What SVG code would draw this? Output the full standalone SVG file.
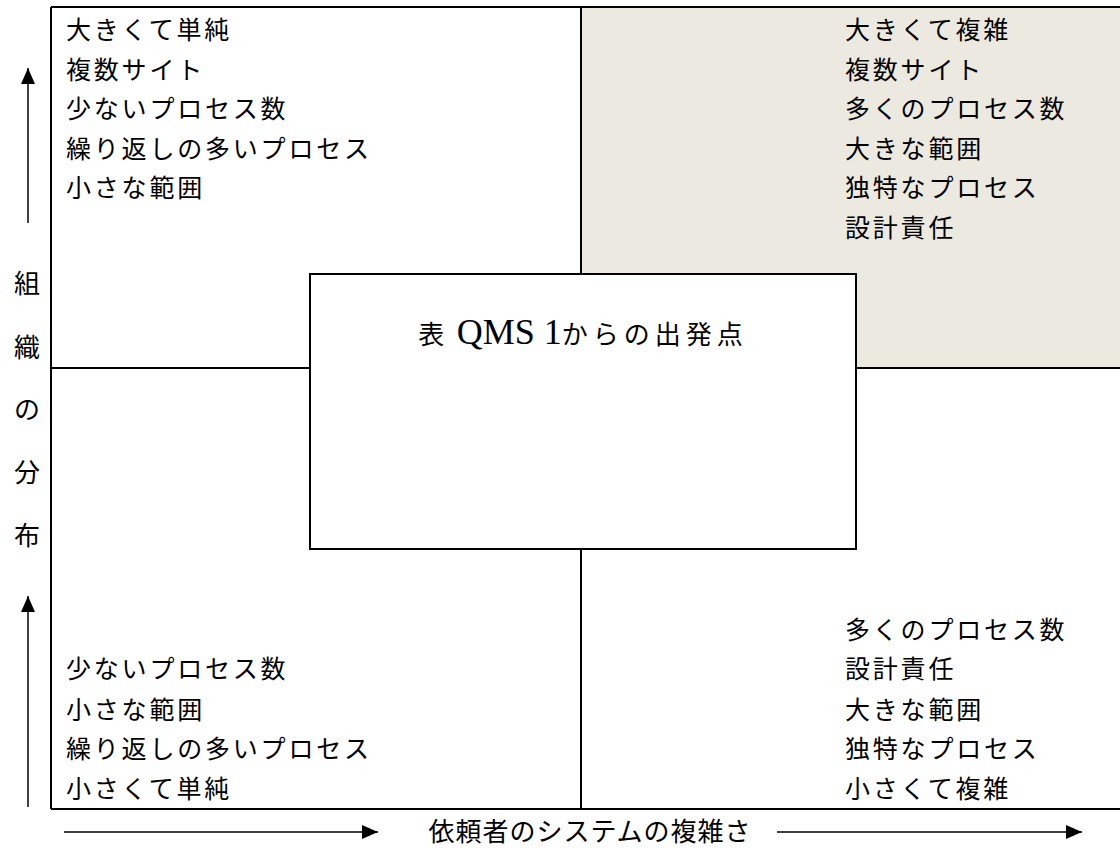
<svg xmlns="http://www.w3.org/2000/svg" width="1120" height="848" viewBox="0 0 1120 848">
<defs>
<style>
.t{font-family:"Liberation Serif","Noto Sans CJK JP",serif;font-size:25px;letter-spacing:2.8px;fill:#000}
.ax{font-family:"Liberation Serif","Noto Sans CJK JP",serif;font-size:26px;fill:#000}
.ln{stroke:#000;stroke-width:2;fill:none}
.ar{stroke:#000;stroke-width:1.5;fill:none}
</style>
<marker id="ahv" viewBox="0 0 16 14" refX="16" refY="7" markerWidth="16" markerHeight="14" markerUnits="userSpaceOnUse" orient="auto"><path d="M0,0 L16,7 L0,14 z" fill="#000"/></marker>
</defs>
<rect width="1120" height="848" fill="#fff"/>
<g id="quadrants">
<rect x="581" y="7" width="539" height="361" fill="#ECE9E0"/>
<path class="ln" d="M51,7 H1120 M51,809 H1120 M51,7 V809 M581,7 V274 M581,549 V809 M51,368 H310 M856,368 H1120"/>
</g>
<g id="top-left">
<text class="t" x="66" y="39">大きくて単純</text>
<text class="t" x="66" y="79">複数サイト</text>
<text class="t" x="66" y="118">少ないプロセス数</text>
<text class="t" x="66" y="158">繰り返しの多いプロセス</text>
<text class="t" x="66" y="197">小さな範囲</text>
</g>
<g id="top-right">
<text class="t" x="845" y="39">大きくて複雑</text>
<text class="t" x="845" y="79">複数サイト</text>
<text class="t" x="845" y="118">多くのプロセス数</text>
<text class="t" x="845" y="158">大きな範囲</text>
<text class="t" x="845" y="197">独特なプロセス</text>
<text class="t" x="845" y="237">設計責任</text>
</g>
<g id="bottom-left">
<text class="t" x="66" y="678">少ないプロセス数</text>
<text class="t" x="66" y="719">小さな範囲</text>
<text class="t" x="66" y="758">繰り返しの多いプロセス</text>
<text class="t" x="66" y="798">小さくて単純</text>
</g>
<g id="bottom-right">
<text class="t" x="845" y="639">多くのプロセス数</text>
<text class="t" x="845" y="678">設計責任</text>
<text class="t" x="845" y="719">大きな範囲</text>
<text class="t" x="845" y="758">独特なプロセス</text>
<text class="t" x="845" y="798">小さくて複雑</text>
</g>
<g id="center">
<rect x="310" y="274" width="546" height="275" fill="#fff" stroke="#000" stroke-width="2"/>
<text class="ax" x="583" y="344" text-anchor="middle" font-size="30"><tspan letter-spacing="3">表 </tspan><tspan font-size="36">QMS 1</tspan><tspan letter-spacing="5">からの出発点</tspan></text>
</g>
<g id="y-axis-label">
<text class="ax" x="27" y="293" text-anchor="middle">組</text>
<text class="ax" x="27" y="357" text-anchor="middle">織</text>
<text class="ax" x="27" y="419" text-anchor="middle">の</text>
<text class="ax" x="27" y="482" text-anchor="middle">分</text>
<text class="ax" x="27" y="545" text-anchor="middle">布</text>
</g>
<g id="x-axis-label">
<text class="ax" x="590" y="841" text-anchor="middle" letter-spacing="1">依頼者のシステムの複雑さ</text>
</g>
<g id="connectors">
<line class="ar" x1="28" y1="223" x2="28" y2="68" marker-end="url(#ahv)"/>
<line class="ar" x1="28" y1="807" x2="28" y2="596" marker-end="url(#ahv)"/>
<line class="ar" x1="64" y1="832" x2="378" y2="832" marker-end="url(#ahv)"/>
<line class="ar" x1="777" y1="832" x2="1082" y2="832" marker-end="url(#ahv)"/>
</g>
</svg>
